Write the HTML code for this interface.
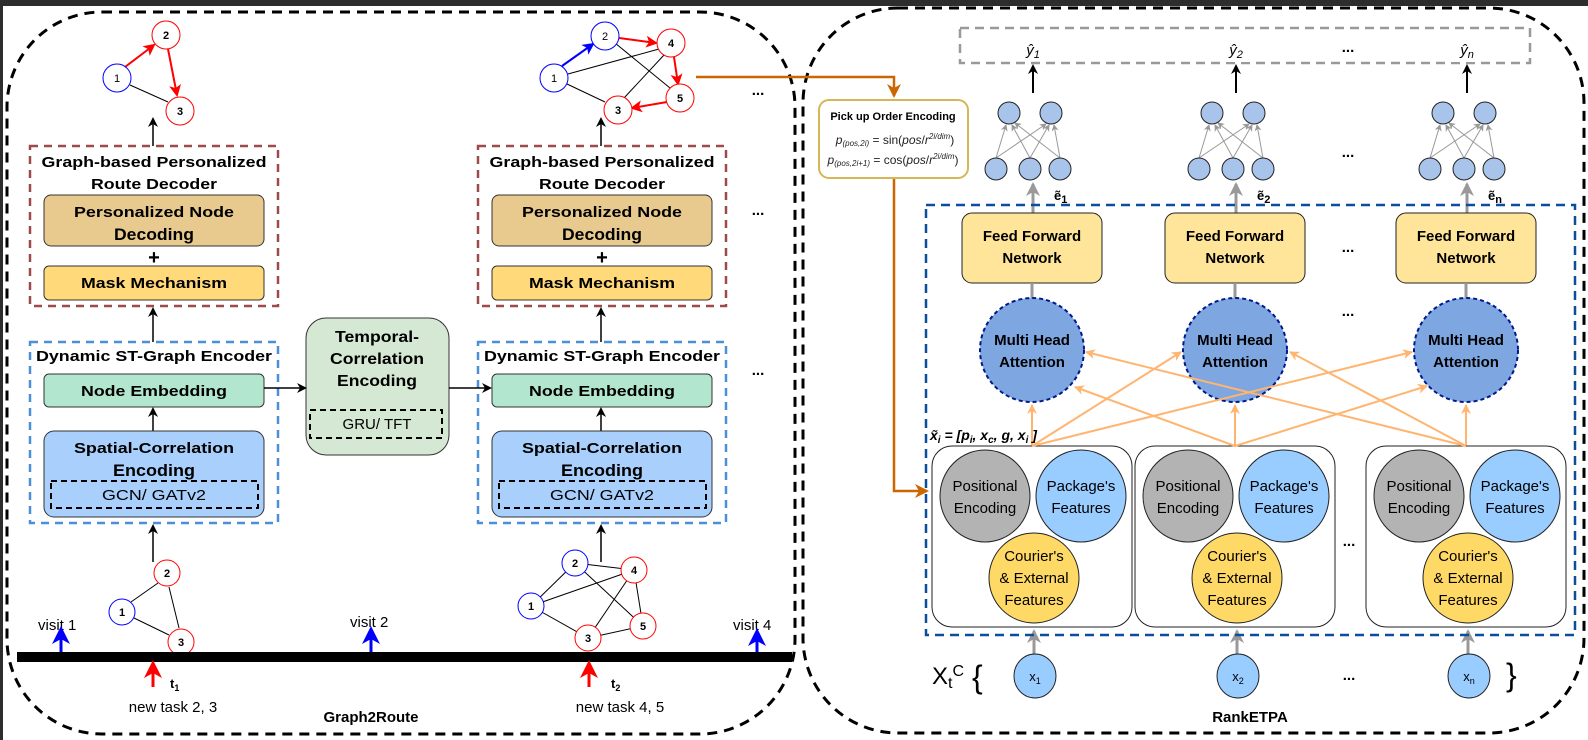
<!DOCTYPE html>
<html><head><meta charset="utf-8"><style>
html,body{margin:0;padding:0;background:#fff}
svg{display:block}
text{font-family:"Liberation Sans",sans-serif}
.b{font-weight:bold}
</style></head><body>
<svg width="1588" height="740" viewBox="0 0 1588 740" xmlns="http://www.w3.org/2000/svg">
<defs>
<marker id="ak" markerWidth="10" markerHeight="10" refX="8" refY="5" orient="auto" markerUnits="userSpaceOnUse"><path d="M0,0 L10,5 L0,10 L3,5 z" fill="#000"/></marker>
<marker id="ar" markerWidth="12" markerHeight="12" refX="10" refY="6" orient="auto" markerUnits="userSpaceOnUse"><path d="M0,0 L12,6 L0,12 L3,6 z" fill="#f00"/></marker>
<marker id="ab" markerWidth="12" markerHeight="12" refX="10" refY="6" orient="auto" markerUnits="userSpaceOnUse"><path d="M0,0 L12,6 L0,12 L3,6 z" fill="#00f"/></marker>
<marker id="ag" markerWidth="7" markerHeight="7" refX="6" refY="3.5" orient="auto" markerUnits="userSpaceOnUse"><path d="M0,0 L7,3.5 L0,7 L2,3.5 z" fill="#999"/></marker>
<marker id="ag2" markerWidth="14" markerHeight="14" refX="12" refY="7" orient="auto" markerUnits="userSpaceOnUse"><path d="M0,0 L14,7 L0,14 L4,7 z" fill="#999"/></marker>
<marker id="ao" markerWidth="10" markerHeight="10" refX="9" refY="5" orient="auto" markerUnits="userSpaceOnUse"><path d="M0,0 L10,5 L0,10 L3,5 z" fill="#ffb570"/></marker>
<marker id="aor" markerWidth="14" markerHeight="14" refX="12" refY="7" orient="auto" markerUnits="userSpaceOnUse"><path d="M0,0 L14,7 L0,14 L4,7 z" fill="#cc6600"/></marker>
<marker id="bigb" markerWidth="18" markerHeight="18" refX="14" refY="9" orient="auto" markerUnits="userSpaceOnUse"><path d="M0,0 L18,9 L0,18 L5,9 z" fill="#00f"/></marker>
<marker id="bigr" markerWidth="18" markerHeight="18" refX="14" refY="9" orient="auto" markerUnits="userSpaceOnUse"><path d="M0,0 L18,9 L0,18 L5,9 z" fill="#f00"/></marker>
</defs>
<rect x="0" y="0" width="1588" height="6" fill="#2d2d2d"/>
<rect x="0" y="0" width="3" height="740" fill="#2d2d2d"/>

<rect x="7" y="12" width="788" height="722" rx="95" fill="none" stroke="#000" stroke-width="3" stroke-dasharray="10,7"/>
<rect x="803" y="8" width="781" height="725" rx="95" fill="none" stroke="#000" stroke-width="3" stroke-dasharray="10,7"/>

<line x1="130" y1="85" x2="168" y2="102" stroke="#000"/>
<line x1="125" y1="67" x2="154" y2="45" stroke="#f00" stroke-width="2" marker-end="url(#ar)"/>
<line x1="168" y1="49" x2="177" y2="95" stroke="#f00" stroke-width="2" marker-end="url(#ar)"/>
<g font-size="11" text-anchor="middle">
<circle cx="117" cy="78" r="14" fill="#fff" stroke="#00f"/><text x="117" y="82">1</text>
<circle cx="166" cy="35" r="14" fill="#fff" stroke="#f00"/><text x="166" y="39" class="b">2</text>
<circle cx="180" cy="111" r="14" fill="#fff" stroke="#f00"/><text x="180" y="115" class="b">3</text>
</g>
<line x1="153" y1="146" x2="153" y2="119" stroke="#000" stroke-width="1.5" marker-end="url(#ak)"/>

<line x1="568" y1="74" x2="659" y2="49" stroke="#000"/>
<line x1="567" y1="84" x2="605" y2="102" stroke="#000"/>
<line x1="615" y1="43" x2="670" y2="88" stroke="#000"/>
<line x1="664" y1="55" x2="624" y2="98" stroke="#000"/>
<line x1="562" y1="66" x2="593" y2="44" stroke="#00f" stroke-width="2" marker-end="url(#ab)"/>
<line x1="619" y1="38" x2="656" y2="43" stroke="#f00" stroke-width="2" marker-end="url(#ar)"/>
<line x1="674" y1="57" x2="678" y2="84" stroke="#f00" stroke-width="2" marker-end="url(#ar)"/>
<line x1="667" y1="102" x2="632" y2="108" stroke="#f00" stroke-width="2" marker-end="url(#ar)"/>
<g font-size="11" text-anchor="middle">
<circle cx="554" cy="78" r="14" fill="#fff" stroke="#00f"/><text x="554" y="82">1</text>
<circle cx="605" cy="36" r="14" fill="#fff" stroke="#00f"/><text x="605" y="40">2</text>
<circle cx="671" cy="43" r="14" fill="#fff" stroke="#f00"/><text x="671" y="47" class="b">4</text>
<circle cx="680" cy="98" r="14" fill="#fff" stroke="#f00"/><text x="680" y="102" class="b">5</text>
<circle cx="618" cy="110" r="14" fill="#fff" stroke="#f00"/><text x="618" y="114" class="b">3</text>
</g>
<line x1="601" y1="146" x2="601" y2="119" stroke="#000" stroke-width="1.5" marker-end="url(#ak)"/>
<g font-size="15" font-weight="bold" text-anchor="middle">
<text x="758" y="95">...</text><text x="758" y="215">...</text><text x="758" y="375">...</text>
</g>

<g id="dec">
<rect x="30" y="146" width="248" height="160" fill="none" stroke="#9e4a4a" stroke-width="2.5" stroke-dasharray="8,6"/>
<text x="154" y="167" class="b" font-size="15" text-anchor="middle" textLength="225" lengthAdjust="spacingAndGlyphs">Graph-based Personalized</text>
<text x="154" y="189" class="b" font-size="15" text-anchor="middle" textLength="126" lengthAdjust="spacingAndGlyphs">Route Decoder</text>
<rect x="44" y="195" width="220" height="51" rx="7" fill="#e8c98e" stroke="#333"/>
<text x="154" y="217" class="b" font-size="15" text-anchor="middle" textLength="160" lengthAdjust="spacingAndGlyphs">Personalized Node</text>
<text x="154" y="240" class="b" font-size="17" text-anchor="middle" textLength="80" lengthAdjust="spacingAndGlyphs">Decoding</text>
<text x="154" y="264" class="b" font-size="20" text-anchor="middle">+</text>
<rect x="44" y="266" width="220" height="34" rx="5" fill="#ffd97a" stroke="#333"/>
<text x="154" y="288" class="b" font-size="15" text-anchor="middle" textLength="146" lengthAdjust="spacingAndGlyphs">Mask Mechanism</text>
<line x1="153" y1="342" x2="153" y2="309" stroke="#000" stroke-width="1.5" marker-end="url(#ak)"/>
<rect x="30" y="342" width="248" height="181" fill="none" stroke="#4a90d9" stroke-width="2.5" stroke-dasharray="8,6"/>
<text x="154" y="361" class="b" font-size="15" text-anchor="middle" textLength="236" lengthAdjust="spacingAndGlyphs">Dynamic ST-Graph Encoder</text>
<rect x="44" y="374" width="220" height="33" rx="5" fill="#b3e6cf" stroke="#333"/>
<text x="154" y="396" class="b" font-size="15" text-anchor="middle" textLength="146" lengthAdjust="spacingAndGlyphs">Node Embedding</text>
<line x1="153" y1="431" x2="153" y2="409" stroke="#000" stroke-width="1.5" marker-end="url(#ak)"/>
<rect x="44" y="431" width="220" height="86" rx="10" fill="#a9d0fc" stroke="#333"/>
<text x="154" y="453" class="b" font-size="15" text-anchor="middle" textLength="160" lengthAdjust="spacingAndGlyphs">Spatial-Correlation</text>
<text x="154" y="476" class="b" font-size="17" text-anchor="middle" textLength="82" lengthAdjust="spacingAndGlyphs">Encoding</text>
<rect x="51" y="481" width="207" height="27" fill="none" stroke="#000" stroke-width="2" stroke-dasharray="6,4"/>
<text x="154" y="500" font-size="15" text-anchor="middle" textLength="104" lengthAdjust="spacingAndGlyphs">GCN/ GATv2</text>
<line x1="153" y1="562" x2="153" y2="526" stroke="#000" stroke-width="1.5" marker-end="url(#ak)"/>
</g>
<use href="#dec" transform="translate(448,0)"/>

<rect x="306" y="318" width="143" height="137" rx="20" fill="#d5e8d4" stroke="#333"/>
<text x="377" y="342" font-size="16" class="b" text-anchor="middle" textLength="84" lengthAdjust="spacingAndGlyphs">Temporal-</text>
<text x="377" y="364" font-size="16" class="b" text-anchor="middle" textLength="94" lengthAdjust="spacingAndGlyphs">Correlation</text>
<text x="377" y="386" font-size="16" class="b" text-anchor="middle" textLength="80" lengthAdjust="spacingAndGlyphs">Encoding</text>
<rect x="310" y="410" width="132" height="28" fill="none" stroke="#000" stroke-width="2" stroke-dasharray="6,4"/>
<text x="377" y="429" font-size="15" text-anchor="middle">GRU/ TFT</text>
<line x1="264" y1="388" x2="305" y2="388" stroke="#000" stroke-width="1.5" marker-end="url(#ak)"/>
<line x1="449" y1="388" x2="490" y2="388" stroke="#000" stroke-width="1.5" marker-end="url(#ak)"/>

<line x1="131" y1="602" x2="158" y2="583" stroke="#000"/>
<line x1="134" y1="618" x2="169" y2="635" stroke="#000"/>
<line x1="169" y1="587" x2="179" y2="628" stroke="#000"/>
<g font-size="11" text-anchor="middle">
<circle cx="122" cy="612" r="13" fill="#fff" stroke="#00f"/><text x="122" y="616" class="b">1</text>
<circle cx="167" cy="573" r="13" fill="#fff" stroke="#f00"/><text x="167" y="577" class="b">2</text>
<circle cx="181" cy="642" r="13" fill="#fff" stroke="#f00"/><text x="181" y="646" class="b">3</text>
</g>
<g stroke="#000">
<line x1="531" y1="606" x2="575" y2="563"/><line x1="575" y1="563" x2="634" y2="570"/>
<line x1="531" y1="606" x2="634" y2="570"/><line x1="575" y1="563" x2="643" y2="626"/>
<line x1="634" y1="570" x2="588" y2="638"/><line x1="634" y1="570" x2="643" y2="626"/>
<line x1="531" y1="606" x2="588" y2="638"/><line x1="588" y1="638" x2="643" y2="626"/>
</g>
<g font-size="11" text-anchor="middle" font-weight="bold">
<circle cx="531" cy="606" r="13" fill="#fff" stroke="#00f"/><text x="531" y="610">1</text>
<circle cx="575" cy="563" r="13" fill="#fff" stroke="#00f"/><text x="575" y="567">2</text>
<circle cx="634" cy="570" r="13" fill="#fff" stroke="#f00"/><text x="634" y="574">4</text>
<circle cx="643" cy="626" r="13" fill="#fff" stroke="#f00"/><text x="643" y="630">5</text>
<circle cx="588" cy="638" r="13" fill="#fff" stroke="#f00"/><text x="588" y="642">3</text>
</g>

<rect x="17" y="652" width="775" height="10" fill="#000"/>
<g font-size="15">
<text x="38" y="630">visit 1</text>
<text x="350" y="627">visit 2</text>
<text x="733" y="630">visit 4</text>
</g>
<line x1="61" y1="652" x2="61" y2="630" stroke="#00f" stroke-width="3" marker-end="url(#bigb)"/>
<line x1="371" y1="652" x2="371" y2="630" stroke="#00f" stroke-width="3" marker-end="url(#bigb)"/>
<line x1="757" y1="652" x2="757" y2="632" stroke="#00f" stroke-width="3" marker-end="url(#bigb)"/>
<line x1="153" y1="687" x2="153" y2="664" stroke="#f00" stroke-width="3" marker-end="url(#bigr)"/>
<line x1="589" y1="687" x2="589" y2="664" stroke="#f00" stroke-width="3" marker-end="url(#bigr)"/>
<text x="170" y="688" font-size="13" class="b">t<tspan font-size="9" dy="3">1</tspan></text>
<text x="611" y="688" font-size="13" class="b">t<tspan font-size="9" dy="3">2</tspan></text>
<text x="173" y="712" font-size="15" text-anchor="middle">new task 2, 3</text>
<text x="620" y="712" font-size="15" text-anchor="middle">new task 4, 5</text>
<text x="371" y="722" font-size="15" class="b" text-anchor="middle">Graph2Route</text>

<polyline points="696,77 894,77 894,96" fill="none" stroke="#cc6600" stroke-width="2.5" marker-end="url(#aor)"/>
<polyline points="894,178 894,491 927,491" fill="none" stroke="#cc6600" stroke-width="2.5" marker-end="url(#aor)"/>

<rect x="960" y="28" width="570" height="35" fill="none" stroke="#999" stroke-width="2.5" stroke-dasharray="9,6"/>
<rect x="819" y="100" width="149" height="78" rx="10" fill="#fff" stroke="#d6b656" stroke-width="2"/>
<text x="893" y="120" font-size="11" class="b" text-anchor="middle">Pick up Order Encoding</text>
<text x="895" y="144" font-size="12" font-family="Liberation Serif" text-anchor="middle" fill="#222"><tspan font-style="italic">p</tspan><tspan font-size="8" font-style="italic" dy="2">(pos,2i)</tspan><tspan dy="-2"> = sin(</tspan><tspan font-style="italic">pos</tspan>/<tspan font-style="italic">r</tspan><tspan font-size="8" dy="-5" font-style="italic">2i/dim</tspan><tspan dy="5">)</tspan></text>
<text x="893" y="164" font-size="12" font-family="Liberation Serif" text-anchor="middle" fill="#222"><tspan font-style="italic">p</tspan><tspan font-size="8" font-style="italic" dy="2">(pos,2i+1)</tspan><tspan dy="-2"> = cos(</tspan><tspan font-style="italic">pos</tspan>/<tspan font-style="italic">r</tspan><tspan font-size="8" dy="-5" font-style="italic">2i/dim</tspan><tspan dy="5">)</tspan></text>

<g id="col">
<text x="1033" y="55" font-size="15" font-style="italic" text-anchor="middle">ŷ<tspan font-size="11" dy="3">1</tspan></text>
<line x1="1033" y1="93" x2="1033" y2="66" stroke="#000" stroke-width="2" marker-end="url(#ak)"/>
<g stroke="#999" stroke-width="1">
<line x1="996" y1="158" x2="1006" y2="125" marker-end="url(#ag)"/>
<line x1="996" y1="158" x2="1046" y2="124" marker-end="url(#ag)"/>
<line x1="1030" y1="158" x2="1012" y2="125" marker-end="url(#ag)"/>
<line x1="1030" y1="158" x2="1049" y2="125" marker-end="url(#ag)"/>
<line x1="1060" y1="158" x2="1015" y2="123" marker-end="url(#ag)"/>
<line x1="1060" y1="158" x2="1054" y2="125" marker-end="url(#ag)"/>
</g>
<g fill="#a9c4eb" stroke="#222">
<ellipse cx="1009" cy="113" rx="11" ry="11"/><ellipse cx="1051" cy="113" rx="11" ry="11"/>
<ellipse cx="996" cy="169" rx="11" ry="11"/><ellipse cx="1030" cy="169" rx="11" ry="11"/><ellipse cx="1060" cy="169" rx="11" ry="11"/>
</g>
<line x1="1033" y1="213" x2="1033" y2="184" stroke="#999" stroke-width="3" marker-end="url(#ag2)"/>
<rect x="962" y="213" width="140" height="70" rx="10" fill="#ffe599" stroke="#222"/>
<text x="1032" y="241" font-size="15" class="b" text-anchor="middle">Feed Forward</text>
<text x="1032" y="263" font-size="15" class="b" text-anchor="middle">Network</text>
<line x1="1032" y1="283" x2="1032" y2="298" stroke="#999" stroke-width="3"/>
<circle cx="1032" cy="350" r="52" fill="#7ea6e0" stroke="#001a8c" stroke-width="2" stroke-dasharray="4,3"/>
<text x="1032" y="345" font-size="15" class="b" text-anchor="middle">Multi Head</text>
<text x="1032" y="367" font-size="15" class="b" text-anchor="middle">Attention</text>
<line x1="1032" y1="446" x2="1032" y2="405" stroke="#ffb570" stroke-width="2" marker-end="url(#ao)"/>
<rect x="932" y="446" width="200" height="181" rx="20" fill="#fff" stroke="#222"/>
<ellipse cx="985" cy="496" rx="45" ry="46" fill="#b3b3b3" stroke="#222"/>
<ellipse cx="1081" cy="496" rx="45" ry="46" fill="#99ccff" stroke="#222"/>
<ellipse cx="1034" cy="578" rx="45" ry="45" fill="#ffd966" stroke="#222"/>
<g font-size="15" text-anchor="middle">
<text x="985" y="491">Positional</text><text x="985" y="513">Encoding</text>
<text x="1081" y="491">Package's</text><text x="1081" y="513">Features</text>
<text x="1034" y="561">Courier's</text><text x="1034" y="583">&amp; External</text><text x="1034" y="605">Features</text>
</g>
<line x1="1034" y1="656" x2="1034" y2="631" stroke="#999" stroke-width="3" marker-end="url(#ag2)"/>
<ellipse cx="1035" cy="676" rx="21" ry="22" fill="#99ccff" stroke="#222"/>
</g>
<use href="#col" transform="translate(203,0)"/>
<use href="#col" transform="translate(434,0)"/>
<rect x="1220" y="36" width="30" height="26" fill="#fff"/>
<rect x="1450" y="36" width="30" height="26" fill="#fff"/>
<text x="1236" y="55" font-size="15" font-style="italic" text-anchor="middle">ŷ<tspan font-size="11" dy="3">2</tspan></text>
<text x="1467" y="55" font-size="15" font-style="italic" text-anchor="middle">ŷ<tspan font-size="11" dy="3">n</tspan></text>
<g font-size="13" class="b">
<text x="1054" y="200">ẽ<tspan font-size="11" dy="3">1</tspan></text>
<text x="1257" y="200">ẽ<tspan font-size="11" dy="3">2</tspan></text>
<text x="1488" y="200">ẽ<tspan font-size="11" dy="3">n</tspan></text>
</g>
<g font-size="13" text-anchor="middle">
<text x="1035" y="681">x<tspan font-size="9" dy="3">1</tspan></text>
<text x="1238" y="681">x<tspan font-size="9" dy="3">2</tspan></text>
<text x="1469" y="681">x<tspan font-size="9" dy="3">n</tspan></text>
</g>

<rect x="926" y="205" width="649" height="430" fill="none" stroke="#0b4f9c" stroke-width="2.5" stroke-dasharray="9,6"/>

<g stroke="#ffb570" stroke-width="2" fill="none">
<line x1="1032" y1="446" x2="1181" y2="352" marker-end="url(#ao)"/>
<line x1="1032" y1="446" x2="1412" y2="352" marker-end="url(#ao)"/>
<line x1="1235" y1="446" x2="1075" y2="387" marker-end="url(#ao)"/>
<line x1="1235" y1="446" x2="1427" y2="386" marker-end="url(#ao)"/>
<line x1="1466" y1="446" x2="1086" y2="352" marker-end="url(#ao)"/>
<line x1="1466" y1="446" x2="1290" y2="352" marker-end="url(#ao)"/>
</g>
<text x="930" y="440" font-size="14" font-weight="bold" font-style="italic">x̃<tspan font-size="10" dy="3">i</tspan><tspan dy="-3"> = [p</tspan><tspan font-size="10" dy="3">i</tspan><tspan dy="-3">, x</tspan><tspan font-size="10" dy="3">c</tspan><tspan dy="-3">, g, x</tspan><tspan font-size="10" dy="3">i</tspan><tspan dy="-3"> ]</tspan></text>

<g font-size="15" font-weight="bold" text-anchor="middle">
<text x="1348" y="52">...</text><text x="1348" y="157">...</text><text x="1348" y="252">...</text>
<text x="1348" y="316">...</text><text x="1349" y="546">...</text><text x="1349" y="680">...</text>
</g>
<text x="932" y="684" font-size="24">X<tspan font-size="16" dy="4">t</tspan><tspan font-size="16" dy="-12">C</tspan></text>
<text x="972" y="688" font-size="32">{</text>
<text x="1506" y="686" font-size="32">}</text>
<text x="1250" y="722" font-size="15" class="b" text-anchor="middle">RankETPA</text>
</svg>
</body></html>
